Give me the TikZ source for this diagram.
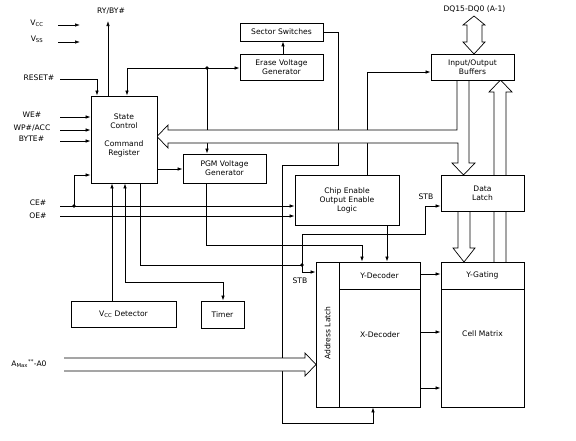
\documentclass[tikz,border=0pt]{standalone}
\usepackage{fontspec}
\setmainfont{DejaVu Sans}
\usetikzlibrary{arrows.meta}
\pgfdeclarelayer{lines}
\pgfdeclarelayer{buses}
\pgfsetlayers{lines,buses,main}
\begin{document}
\begin{tikzpicture}[x=1pt,y=-1pt,
  font=\fontsize{7.6}{9}\selectfont,
  box/.style={draw,line width=0.8pt,fill=white,inner sep=0pt,align=center},
  txt/.style={inner sep=0pt,align=center},
  wire/.style={line width=0.7pt},
  arr/.style={wire,-{Latex[length=5pt,width=3.5pt]}},
  barr/.style={wire,{Latex[length=5pt,width=3.5pt]}-{Latex[length=5pt,width=3.5pt]}},
  bus/.style={draw,line width=0.7pt,fill=white},
  dot/.style={circle,fill,inner sep=0pt,minimum size=3.6pt}]
\useasboundingbox (0,0) rectangle (576,440);

% ---------- boxes ----------
\node[box,minimum width=66pt,minimum height=87pt] (sc) at (124,139.5) {};
\node[txt] (sctext) at (124,135) {State\\Control\\[9pt]Command\\Register};
\node[box,minimum width=83pt,minimum height=18pt] (ss) at (281.5,32) {Sector Switches};
\node[box,minimum width=83pt,minimum height=26pt] (evg) at (281.5,67) {Erase Voltage\\Generator};
\node[box,minimum width=83pt,minimum height=29pt] (pgm) at (224.5,168.5) {PGM Voltage\\Generator};
\node[box,minimum width=104pt,minimum height=50pt] (ce) at (347,200) {Chip Enable\\Output Enable\\Logic};
\node[box,minimum width=83pt,minimum height=26pt] (io) at (472.5,67) {Input/Output\\Buffers};
\node[box,minimum width=83pt,minimum height=36pt] (dl) at (482.5,193) {Data\\Latch};
\node[box,minimum width=23pt,minimum height=145pt] (al) at (327.5,334.5) {};
\node[txt,rotate=90] (altext) at (327.5,333) {Address Latch};
\node[box,minimum width=81pt,minimum height=27pt] (yd) at (379.5,275.5) {Y-Decoder};
\node[box,minimum width=81pt,minimum height=118pt] (xd) at (379.5,348) {};
\node[txt] (xdtext) at (380,335) {X-Decoder};
\node[box,minimum width=83pt,minimum height=27pt] (yg) at (482.5,275.5) {Y-Gating};
\node[box,minimum width=83pt,minimum height=118pt] (cm) at (482.5,348) {};
\node[txt] (cmtext) at (482.5,334) {Cell Matrix};
\node[box,minimum width=105pt,minimum height=26pt] (vcc) at (123.5,314) {V\textsubscript{CC} Detector};
\node[box,minimum width=43pt,minimum height=27pt] (tim) at (222.5,314.5) {Timer};

% ---------- pin labels ----------
\node[txt] (lvcc) at (37,23) {V\textsubscript{CC}};
\node[txt] (lvss) at (37,39) {V\textsubscript{SS}};
\node[txt] (lry) at (111,11) {RY/BY\#};
\node[txt] (lrst) at (39,78) {RESET\#};
\node[txt] (lwe) at (32,115) {WE\#};
\node[txt] (lwp) at (32,128) {WP\#/ACC};
\node[txt] (lby) at (31.5,139) {BYTE\#};
\node[txt] (lce) at (38,203) {CE\#};
\node[txt] (loe) at (38,216) {OE\#};
\node[txt] (lam) at (29,364) {A\textsubscript{Max}\textsuperscript{**}-A0};
\node[txt] (ldq) at (474.5,9) {DQ15-DQ0 (A-1)};
\node[txt] (lstb1) at (426,197) {STB};
\node[txt] (lstb2) at (300,281) {STB};

% ---------- free ends ----------
\coordinate (vccS) at (58,25);  \coordinate (vccE) at (80,25);
\coordinate (vssS) at (58,42);  \coordinate (vssE) at (80,42);
\coordinate (ryE) at (108,21);
\coordinate (rstS) at (60,79);
\coordinate (weS) at (60,117);
\coordinate (wpS) at (60,130);
\coordinate (byS) at (60,141);
\coordinate (ceS) at (60,206);
\coordinate (oeS) at (60,216);
\coordinate (cedot) at (74,206);
\coordinate (fbdot) at (207,68);
\coordinate (stbdot) at (302,265);

% ---------- connectors ----------
\begin{pgfonlayer}{lines}
\draw[arr] (vccS) -- (vccE);
\draw[arr] (vssS) -- (vssE);
\draw[arr] (sc.north -| ryE) -- (ryE);
\draw[arr] (rstS) -| (sc.north -| 97,0);
\draw[barr] (sc.north -| 127,0) |- (evg.west |- fbdot);
\draw[arr] (fbdot) -- (pgm.north -| fbdot);
\node[dot] (fbd) at (fbdot) {};
\draw[arr] (evg.north -| 283,0) -- (ss.south -| 283,0);
\draw[arr] (ss.east) -| (338,165) -| (282,423) -| (xd.south -| 373,0);
\draw[arr] (ce.north -| 367,0) |- (io.west |- 0,72);
\draw[arr] (weS) -- (sc.west |- weS);
\draw[arr] (wpS) -- (sc.west |- wpS);
\draw[arr] (byS) -- (sc.west |- byS);
\draw[arr] (ceS) -- (ce.west |- ceS);
\draw[arr] (oeS) -- (ce.west |- oeS);
\draw[arr] (cedot) |- (sc.west |- 0,175);
\node[dot] (ced) at (cedot) {};
\draw[arr] (sc.east |- 0,169) -- (pgm.west |- 0,169);
\draw[arr] (vcc.north -| 112,0) -- (sc.south -| 112,0);
\draw[barr] (sc.south -| 125,0) -- (125,282) -| (tim.north -| 223,0);
\draw[arr] (sc.south -| 140,0) |- (stbdot) -- (302,272) -- (al.west |- 0,272);
\draw[arr] (stbdot) |- (425,234) |- (dl.west |- 0,206);
\node[dot] (stbd) at (stbdot) {};
\draw[arr] (pgm.south -| 206,0) |- (362,245) -- (yd.north -| 362,0);
\draw[arr] (ce.south -| 387,0) -- (yd.north -| 387,0);
\draw[arr] (yd.east |- 0,274) -- (yg.west |- 0,274);
\draw[arr] (xd.east |- 0,332) -- (cm.west |- 0,332);
\draw[arr] (xd.east |- 0,388) -- (cm.west |- 0,388);
\end{pgfonlayer}

% ---------- wide (bus) arrows ----------
\begin{pgfonlayer}{buses}
% I/O buffers -> state control and data latch
\draw[bus] (457,80) -- (457,130) -- (168,130) -- (168,125) -- (157,136.5)
  -- (168,148) -- (168,143) -- (458,143) -- (458,163) -- (452,163)
  -- (463.5,175) -- (475,163) -- (469,163) -- (469,80);
% Y-gating -> I/O buffers
\draw[bus] (494,262) -- (494,92) -- (489,92) -- (500.5,80) -- (512,92) -- (506,92) -- (506,262);
% data latch -> Y-gating
\draw[bus] (458,211) -- (458,248) -- (453,248) -- (464,262) -- (475,248) -- (470,248) -- (470,211);
% DQ pins
\draw[bus] (474,16) -- (485,25) -- (482,25) -- (482,42) -- (485,42) -- (474,54)
  -- (463,42) -- (467,42) -- (467,25) -- (463,25) -- cycle;
% address bus
\draw[bus] (64,358) -- (305,358) -- (305,353) -- (316,364.5) -- (305,376) -- (305,371) -- (64,371);
\end{pgfonlayer}
\end{tikzpicture}
\end{document}
